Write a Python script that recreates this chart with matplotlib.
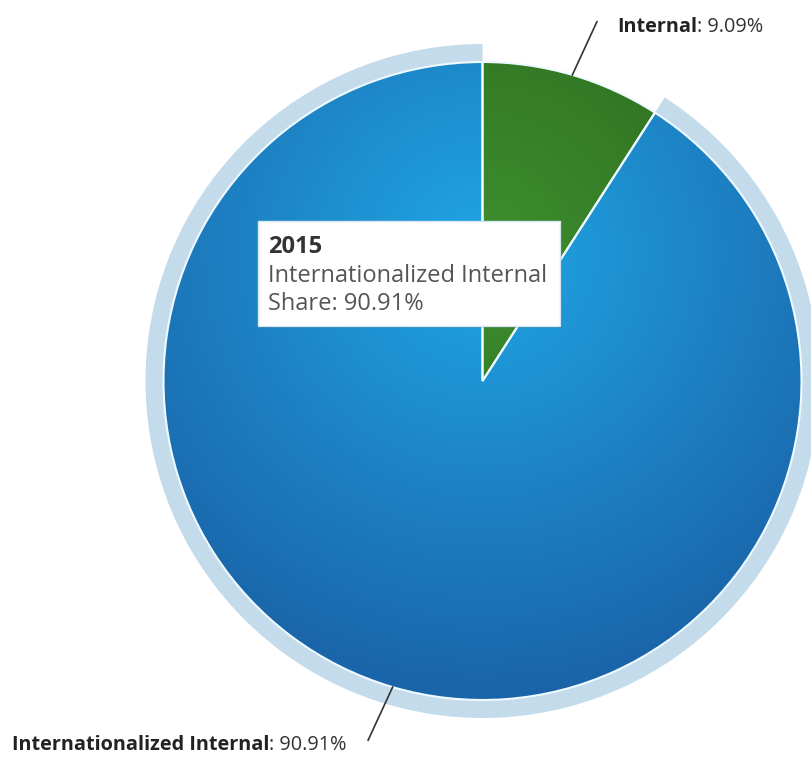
import numpy as np
import matplotlib
matplotlib.use("Agg")
import matplotlib.pyplot as plt
from matplotlib.patches import Wedge, Rectangle
from matplotlib.colors import to_rgb

categories = ["Internal", "Internationalized Internal"]
shares = [9.09, 90.91]
year = "2015"
hovered = 1

inner_colors = ["#3f8f2f", "#20a6e4"]
outer_colors = ["#25601a", "#1a63a8"]

W, H = 812, 757
fig = plt.figure(figsize=(W / 100, H / 100), dpi=100)
ax = fig.add_axes([0, 0, 1, 1])

cx, cy, R = 482.5, H - 381, 319

wedges, _ = ax.pie(shares, startangle=90, counterclock=False, center=(cx, cy),
                   radius=R, colors=["none", "none"],
                   wedgeprops=dict(edgecolor="#eefaff", linewidth=1.5),
                   frame=True)
ax.set_xlim(0, W)
ax.set_ylim(0, H)
ax.set_aspect("equal")
ax.axis("off")

# halo around the hovered slice
hw = wedges[hovered]
halo = Wedge((cx, cy), R + 18, hw.theta1, hw.theta2, width=18,
             facecolor="#c3dbeb", edgecolor="none", zorder=0)
ax.add_patch(halo)

# radial gradient fill, clipped to each wedge
gx, gy, gr = cx, H - 253, 447
xs = np.linspace(cx - R, cx + R, 500)
ys = np.linspace(cy - R, cy + R, 500)
XX, YY = np.meshgrid(xs, ys)
t = np.clip(np.hypot(XX - gx, YY - gy) / gr, 0, 1)[..., None]
for w, c0, c1 in zip(wedges, inner_colors, outer_colors):
    img = (1 - t) * np.array(to_rgb(c0)) + t * np.array(to_rgb(c1))
    im = ax.imshow(img, extent=(cx - R, cx + R, cy - R, cy + R), origin="lower",
                   interpolation="bilinear", zorder=1)
    im.set_clip_path(w)
    w.set_zorder(2)

fam = ["Open Sans", "DejaVu Sans"]
fig.canvas.draw()
renderer = fig.canvas.get_renderer()

# data labels with connectors
label_pos = [(617, H - 27), (12, H - 745)]
for w, name, val, (lx, ly) in zip(wedges, categories, shares, label_pos):
    mid = np.deg2rad((w.theta1 + w.theta2) / 2)
    end = mid - np.deg2rad(1.3)
    x0, y0 = cx + R * np.cos(mid), cy + R * np.sin(mid)
    x1, y1 = cx + 377 * np.cos(end), cy + 377 * np.sin(end)
    ax.plot([x0, x1], [y0, y1], color="#333333", lw=1.2, zorder=3)
    t1 = ax.text(lx, ly, name, fontsize=14.3, fontweight="bold", color="#222222",
                 ha="left", va="center", family=fam, zorder=4)
    bb = t1.get_window_extent(renderer)
    ax.text(lx + bb.width, ly, f": {val:.2f}%", fontsize=14.3, color="#333333",
            ha="left", va="center", family=fam, zorder=4)

# tooltip
bx, by, bw, bh = 258, H - 326, 302, 105
ax.add_patch(Rectangle((bx + 2, by - 2), bw, bh, facecolor="black", alpha=0.12,
                       edgecolor="none", zorder=5))
ax.add_patch(Rectangle((bx, by), bw, bh, facecolor="white", edgecolor="#d6e6f0",
                       lw=1, zorder=6))
tfam = ["Open Sans", "DejaVu Sans"]
ax.text(bx + 10, H - 247, year, fontsize=17, fontweight="bold", color="#333333",
        va="center", family=tfam, zorder=7)
ax.text(bx + 10, H - 276, categories[hovered], fontsize=17, color="#555555",
        va="center", family=tfam, zorder=7)
ax.text(bx + 10, H - 304, f"Share: {shares[hovered]:.2f}%", fontsize=17,
        color="#555555", va="center", family=tfam, zorder=7)

fig.savefig("out.png", dpi=100, facecolor="white")
